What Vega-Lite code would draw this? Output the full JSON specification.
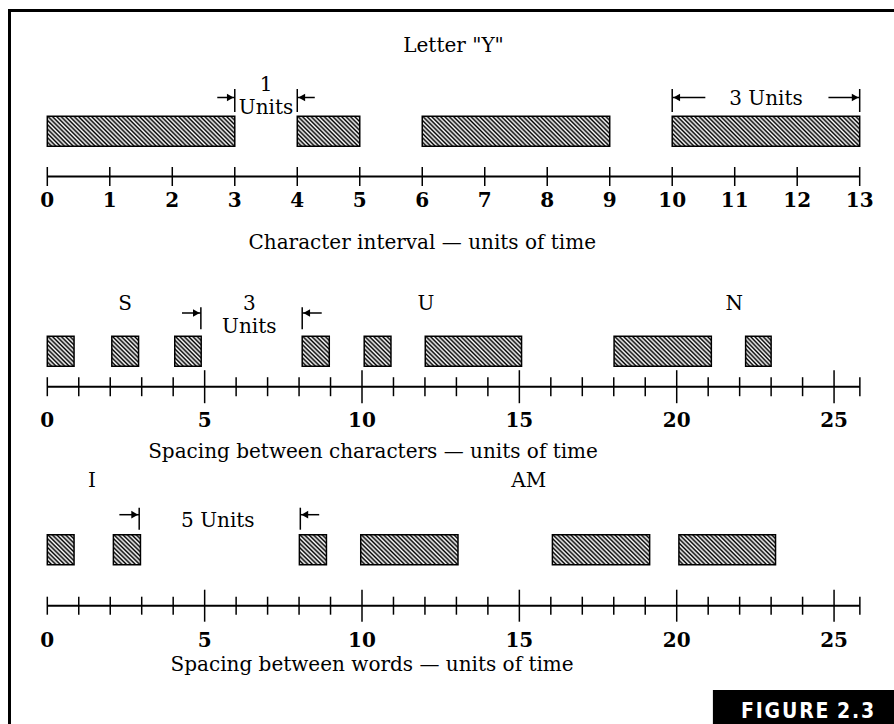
{
"$schema":"https://vega.github.io/schema/vega-lite/v6.json",
"width":887.5,"height":716.5,
"autosize":{"type":"none"},
"padding":{"left":9.5,"top":10.5,"right":-3,"bottom":-3},
"background":"#ffffff",
"config":{"view":{"stroke":"#000","strokeWidth":3},"mark":{"color":"#000"},"text":{"font":"DejaVu Serif","fontSize":20,"baseline":"alphabetic","align":"center","color":"#000"}},
"datasets":{
"bars":[
{"panel":"Y","t":0,"t2":3,"kind":"long"},
{"panel":"Y","t":4,"t2":5,"kind":"short"},
{"panel":"Y","t":6,"t2":9,"kind":"long"},
{"panel":"Y","t":10,"t2":13,"kind":"long"},
{"panel":"S","t":0,"t2":0.85,"kind":"dot"},
{"panel":"S","t":2.05,"t2":2.9,"kind":"dot"},
{"panel":"S","t":4.05,"t2":4.89,"kind":"dot"},
{"panel":"S","t":8.1,"t2":8.96,"kind":"dot"},
{"panel":"S","t":10.07,"t2":10.92,"kind":"dot"},
{"panel":"S","t":12.01,"t2":15.07,"kind":"dash"},
{"panel":"S","t":18.01,"t2":21.1,"kind":"dash"},
{"panel":"S","t":22.19,"t2":23.0,"kind":"dot"},
{"panel":"I","t":0,"t2":0.85,"kind":"dot"},
{"panel":"I","t":2.1,"t2":2.96,"kind":"dot"},
{"panel":"I","t":8.01,"t2":8.87,"kind":"dot"},
{"panel":"I","t":9.96,"t2":13.05,"kind":"dash"},
{"panel":"I","t":16.05,"t2":19.14,"kind":"dash"},
{"panel":"I","t":20.07,"t2":23.14,"kind":"dash"}
],
"axes":[{"panel":"Y","t":0,"t2":13},{"panel":"S","t":0,"t2":25.82},{"panel":"I","t":0,"t2":25.82}],
"ticks":[
{"panel":"Y","t":0,"kind":"unit"},{"panel":"Y","t":1,"kind":"unit"},{"panel":"Y","t":2,"kind":"unit"},{"panel":"Y","t":3,"kind":"unit"},{"panel":"Y","t":4,"kind":"unit"},{"panel":"Y","t":5,"kind":"unit"},{"panel":"Y","t":6,"kind":"unit"},{"panel":"Y","t":7,"kind":"unit"},{"panel":"Y","t":8,"kind":"unit"},{"panel":"Y","t":9,"kind":"unit"},{"panel":"Y","t":10,"kind":"unit"},{"panel":"Y","t":11,"kind":"unit"},{"panel":"Y","t":12,"kind":"unit"},{"panel":"Y","t":13,"kind":"unit"},
{"panel":"S","t":0,"kind":"unit"},{"panel":"S","t":1,"kind":"unit"},{"panel":"S","t":2,"kind":"unit"},{"panel":"S","t":3,"kind":"unit"},{"panel":"S","t":4,"kind":"unit"},{"panel":"S","t":5,"kind":"five"},{"panel":"S","t":6,"kind":"unit"},{"panel":"S","t":7,"kind":"unit"},{"panel":"S","t":8,"kind":"unit"},{"panel":"S","t":9,"kind":"unit"},{"panel":"S","t":10,"kind":"five"},{"panel":"S","t":11,"kind":"unit"},{"panel":"S","t":12,"kind":"unit"},{"panel":"S","t":13,"kind":"unit"},{"panel":"S","t":14,"kind":"unit"},{"panel":"S","t":15,"kind":"five"},{"panel":"S","t":16,"kind":"unit"},{"panel":"S","t":17,"kind":"unit"},{"panel":"S","t":18,"kind":"unit"},{"panel":"S","t":19,"kind":"unit"},{"panel":"S","t":20,"kind":"five"},{"panel":"S","t":21,"kind":"unit"},{"panel":"S","t":22,"kind":"unit"},{"panel":"S","t":23,"kind":"unit"},{"panel":"S","t":24,"kind":"unit"},{"panel":"S","t":25,"kind":"five"},{"panel":"S","t":25.82,"kind":"unit"},
{"panel":"I","t":0,"kind":"unit"},{"panel":"I","t":1,"kind":"unit"},{"panel":"I","t":2,"kind":"unit"},{"panel":"I","t":3,"kind":"unit"},{"panel":"I","t":4,"kind":"unit"},{"panel":"I","t":5,"kind":"five"},{"panel":"I","t":6,"kind":"unit"},{"panel":"I","t":7,"kind":"unit"},{"panel":"I","t":8,"kind":"unit"},{"panel":"I","t":9,"kind":"unit"},{"panel":"I","t":10,"kind":"five"},{"panel":"I","t":11,"kind":"unit"},{"panel":"I","t":12,"kind":"unit"},{"panel":"I","t":13,"kind":"unit"},{"panel":"I","t":14,"kind":"unit"},{"panel":"I","t":15,"kind":"five"},{"panel":"I","t":16,"kind":"unit"},{"panel":"I","t":17,"kind":"unit"},{"panel":"I","t":18,"kind":"unit"},{"panel":"I","t":19,"kind":"unit"},{"panel":"I","t":20,"kind":"five"},{"panel":"I","t":21,"kind":"unit"},{"panel":"I","t":22,"kind":"unit"},{"panel":"I","t":23,"kind":"unit"},{"panel":"I","t":24,"kind":"unit"},{"panel":"I","t":25,"kind":"five"},{"panel":"I","t":25.82,"kind":"unit"}
],
"labels":[
{"panel":"Y","t":0},{"panel":"Y","t":1},{"panel":"Y","t":2},{"panel":"Y","t":3},{"panel":"Y","t":4},{"panel":"Y","t":5},{"panel":"Y","t":6},{"panel":"Y","t":7},{"panel":"Y","t":8},{"panel":"Y","t":9},{"panel":"Y","t":10},{"panel":"Y","t":11},{"panel":"Y","t":12},{"panel":"Y","t":13},
{"panel":"S","t":0},{"panel":"S","t":5},{"panel":"S","t":10},{"panel":"S","t":15},{"panel":"S","t":20},{"panel":"S","t":25},
{"panel":"I","t":0},{"panel":"I","t":5},{"panel":"I","t":10},{"panel":"I","t":15},{"panel":"I","t":20},{"panel":"I","t":25}
],
"texts":[
{"panel":"Y","t":6.5,"text":"Letter \"Y\"","role":"head"},
{"panel":"Y","t":3.5,"text":"1","role":"num"},
{"panel":"Y","t":3.5,"text":"Units","role":"unit"},
{"panel":"Y","t":11.5,"text":"3 Units","role":"span"},
{"panel":"Y","t":6.0,"text":"Character interval — units of time","role":"title"},
{"panel":"S","t":2.47,"text":"S","role":"char"},
{"panel":"S","t":6.42,"text":"3","role":"char"},
{"panel":"S","t":12.03,"text":"U","role":"char"},
{"panel":"S","t":21.83,"text":"N","role":"char"},
{"panel":"S","t":6.42,"text":"Units","role":"unit"},
{"panel":"S","t":10.35,"text":"Spacing between characters — units of time","role":"title"},
{"panel":"I","t":1.42,"text":"I","role":"char"},
{"panel":"I","t":15.3,"text":"AM","role":"char"},
{"panel":"I","t":5.42,"text":"5 Units","role":"span"},
{"panel":"I","t":10.32,"text":"Spacing between words — units of time","role":"title"}
],
"figure":[{"panel":"I","t":21.15,"t2":27.5,"text":"F\u200aI\u200aG\u200aU\u200aR\u200aE \u200a2\u200a.\u200a3"}],
"arrows":[
{"panel":"Y","t":3,"t2":2.72,"dir":"right"},
{"panel":"Y","t":4,"t2":4.28,"dir":"left"},
{"panel":"Y","t":10,"t2":10.53,"dir":"left"},
{"panel":"Y","t":13,"t2":12.5,"dir":"right"},
{"panel":"S","t":4.88,"t2":4.28,"dir":"right"},
{"panel":"S","t":8.1,"t2":8.72,"dir":"left"},
{"panel":"I","t":2.92,"t2":2.29,"dir":"right"},
{"panel":"I","t":8.04,"t2":8.64,"dir":"left"}
]
},
"encoding":{"y":{"field":"panel","type":"nominal","axis":null,"scale":{"type":"point","domain":["Y","S","I"],"range":[142.4,539.2],"padding":0}}},
"layer":[
{"encoding":{"x":{"field":"t","type":"quantitative","axis":null,"scale":{"domain":[-0.6049,13.597],"nice":false,"zero":false}}},
"layer":[
{"data":{"name":"bars"},"transform":[{"filter":"datum.kind==='long'"}],"mark":{"type":"bar","height":30,"yOffset":-21.6,"stroke":"#000","strokeWidth":1.5,"fill":{"gradient":"linear","x1":0,"y1":1,"x2":1.1327,"y2":0.8187,"stops":[{"offset":0,"color":"#000"},{"offset":0.01,"color":"#fff"},{"offset":0.02,"color":"#000"},{"offset":0.03,"color":"#fff"},{"offset":0.04,"color":"#000"},{"offset":0.05,"color":"#fff"},{"offset":0.06,"color":"#000"},{"offset":0.07,"color":"#fff"},{"offset":0.08,"color":"#000"},{"offset":0.09,"color":"#fff"},{"offset":0.1,"color":"#000"},{"offset":0.11,"color":"#fff"},{"offset":0.12,"color":"#000"},{"offset":0.13,"color":"#fff"},{"offset":0.14,"color":"#000"},{"offset":0.15,"color":"#fff"},{"offset":0.16,"color":"#000"},{"offset":0.17,"color":"#fff"},{"offset":0.18,"color":"#000"},{"offset":0.19,"color":"#fff"},{"offset":0.2,"color":"#000"},{"offset":0.21,"color":"#fff"},{"offset":0.22,"color":"#000"},{"offset":0.23,"color":"#fff"},{"offset":0.24,"color":"#000"},{"offset":0.25,"color":"#fff"},{"offset":0.26,"color":"#000"},{"offset":0.27,"color":"#fff"},{"offset":0.28,"color":"#000"},{"offset":0.29,"color":"#fff"},{"offset":0.3,"color":"#000"},{"offset":0.31,"color":"#fff"},{"offset":0.32,"color":"#000"},{"offset":0.33,"color":"#fff"},{"offset":0.34,"color":"#000"},{"offset":0.35,"color":"#fff"},{"offset":0.36,"color":"#000"},{"offset":0.37,"color":"#fff"},{"offset":0.38,"color":"#000"},{"offset":0.39,"color":"#fff"},{"offset":0.4,"color":"#000"},{"offset":0.41,"color":"#fff"},{"offset":0.42,"color":"#000"},{"offset":0.43,"color":"#fff"},{"offset":0.44,"color":"#000"},{"offset":0.45,"color":"#fff"},{"offset":0.46,"color":"#000"},{"offset":0.47,"color":"#fff"},{"offset":0.48,"color":"#000"},{"offset":0.49,"color":"#fff"},{"offset":0.5,"color":"#000"},{"offset":0.51,"color":"#fff"},{"offset":0.52,"color":"#000"},{"offset":0.53,"color":"#fff"},{"offset":0.54,"color":"#000"},{"offset":0.55,"color":"#fff"},{"offset":0.56,"color":"#000"},{"offset":0.57,"color":"#fff"},{"offset":0.58,"color":"#000"},{"offset":0.59,"color":"#fff"},{"offset":0.6,"color":"#000"},{"offset":0.61,"color":"#fff"},{"offset":0.62,"color":"#000"},{"offset":0.63,"color":"#fff"},{"offset":0.64,"color":"#000"},{"offset":0.65,"color":"#fff"},{"offset":0.66,"color":"#000"},{"offset":0.67,"color":"#fff"},{"offset":0.68,"color":"#000"},{"offset":0.69,"color":"#fff"},{"offset":0.7,"color":"#000"},{"offset":0.71,"color":"#fff"},{"offset":0.72,"color":"#000"},{"offset":0.73,"color":"#fff"},{"offset":0.74,"color":"#000"},{"offset":0.75,"color":"#fff"},{"offset":0.76,"color":"#000"},{"offset":0.77,"color":"#fff"},{"offset":0.78,"color":"#000"},{"offset":0.79,"color":"#fff"},{"offset":0.8,"color":"#000"},{"offset":0.81,"color":"#fff"},{"offset":0.82,"color":"#000"},{"offset":0.83,"color":"#fff"},{"offset":0.84,"color":"#000"},{"offset":0.85,"color":"#fff"},{"offset":0.86,"color":"#000"},{"offset":0.87,"color":"#fff"},{"offset":0.88,"color":"#000"},{"offset":0.89,"color":"#fff"},{"offset":0.9,"color":"#000"},{"offset":0.91,"color":"#fff"},{"offset":0.92,"color":"#000"},{"offset":0.93,"color":"#fff"},{"offset":0.94,"color":"#000"},{"offset":0.95,"color":"#fff"},{"offset":0.96,"color":"#000"},{"offset":0.97,"color":"#fff"},{"offset":0.98,"color":"#000"},{"offset":0.99,"color":"#fff"},{"offset":1,"color":"#000"}]}},"encoding":{"x2":{"field":"t2"}}},
{"data":{"name":"bars"},"transform":[{"filter":"datum.kind==='short'"}],"mark":{"type":"bar","height":30,"yOffset":-21.6,"stroke":"#000","strokeWidth":1.5,"fill":{"gradient":"linear","x1":0,"y1":1,"x2":1.4162,"y2":0.3201,"stops":[{"offset":0,"color":"#000"},{"offset":0.02,"color":"#fff"},{"offset":0.04,"color":"#000"},{"offset":0.06,"color":"#fff"},{"offset":0.08,"color":"#000"},{"offset":0.1,"color":"#fff"},{"offset":0.12,"color":"#000"},{"offset":0.14,"color":"#fff"},{"offset":0.16,"color":"#000"},{"offset":0.18,"color":"#fff"},{"offset":0.2,"color":"#000"},{"offset":0.22,"color":"#fff"},{"offset":0.24,"color":"#000"},{"offset":0.26,"color":"#fff"},{"offset":0.28,"color":"#000"},{"offset":0.3,"color":"#fff"},{"offset":0.32,"color":"#000"},{"offset":0.34,"color":"#fff"},{"offset":0.36,"color":"#000"},{"offset":0.38,"color":"#fff"},{"offset":0.4,"color":"#000"},{"offset":0.42,"color":"#fff"},{"offset":0.44,"color":"#000"},{"offset":0.46,"color":"#fff"},{"offset":0.48,"color":"#000"},{"offset":0.5,"color":"#fff"},{"offset":0.52,"color":"#000"},{"offset":0.54,"color":"#fff"},{"offset":0.56,"color":"#000"},{"offset":0.58,"color":"#fff"},{"offset":0.6,"color":"#000"},{"offset":0.62,"color":"#fff"},{"offset":0.64,"color":"#000"},{"offset":0.66,"color":"#fff"},{"offset":0.68,"color":"#000"},{"offset":0.7,"color":"#fff"},{"offset":0.72,"color":"#000"},{"offset":0.74,"color":"#fff"},{"offset":0.76,"color":"#000"},{"offset":0.78,"color":"#fff"},{"offset":0.8,"color":"#000"},{"offset":0.82,"color":"#fff"},{"offset":0.84,"color":"#000"},{"offset":0.86,"color":"#fff"},{"offset":0.88,"color":"#000"},{"offset":0.9,"color":"#fff"},{"offset":0.92,"color":"#000"},{"offset":0.94,"color":"#fff"},{"offset":0.96,"color":"#000"},{"offset":0.98,"color":"#fff"},{"offset":1,"color":"#000"}]}},"encoding":{"x2":{"field":"t2"}}},
{"data":{"name":"axes"},"transform":[{"filter":"datum.panel==='Y'"}],"mark":{"type":"rule","strokeWidth":2,"yOffset":23.6},"encoding":{"x2":{"field":"t2"}}},
{"data":{"name":"ticks"},"transform":[{"filter":"datum.panel==='Y'"}],"mark":{"type":"tick","size":19,"thickness":1.5,"opacity":1,"yOffset":23.6}},
{"data":{"name":"labels"},"transform":[{"filter":"datum.panel==='Y'"}],"mark":{"type":"text","fontWeight":"bold","yOffset":53.6},"encoding":{"text":{"field":"t","type":"quantitative","format":"d"}}},
{"data":{"name":"texts"},"transform":[{"filter":"datum.panel==='Y' && datum.role==='head'"}],"mark":{"type":"text","yOffset":-100.9},"encoding":{"text":{"field":"text"}}},
{"data":{"name":"texts"},"transform":[{"filter":"datum.panel==='Y' && datum.role==='num'"}],"mark":{"type":"text","yOffset":-62},"encoding":{"text":{"field":"text"}}},
{"data":{"name":"texts"},"transform":[{"filter":"datum.panel==='Y' && datum.role==='unit'"}],"mark":{"type":"text","yOffset":-39},"encoding":{"text":{"field":"text"}}},
{"data":{"name":"texts"},"transform":[{"filter":"datum.panel==='Y' && datum.role==='span'"}],"mark":{"type":"text","yOffset":-47.9},"encoding":{"text":{"field":"text"}}},
{"data":{"name":"texts"},"transform":[{"filter":"datum.panel==='Y' && datum.role==='title'"}],"mark":{"type":"text","yOffset":96.1},"encoding":{"text":{"field":"text"}}},
{"data":{"name":"arrows"},"transform":[{"filter":"datum.panel==='Y'"}],"mark":{"type":"rule","strokeWidth":1.5,"yOffset":-55.4},"encoding":{"x2":{"field":"t2"}}},
{"data":{"name":"arrows"},"transform":[{"filter":"datum.panel==='Y' && datum.dir==='right'"}],"mark":{"type":"point","shape":"triangle-right","filled":true,"size":60,"opacity":1,"xOffset":-4.5,"yOffset":-55.4}},
{"data":{"name":"arrows"},"transform":[{"filter":"datum.panel==='Y' && datum.dir==='left'"}],"mark":{"type":"point","shape":"triangle-left","filled":true,"size":60,"opacity":1,"xOffset":4.5,"yOffset":-55.4}},
{"data":{"name":"arrows"},"transform":[{"filter":"datum.panel==='Y'"}],"mark":{"type":"tick","size":23,"thickness":1.5,"opacity":1,"yOffset":-52.4}}
]},
{"encoding":{"x":{"field":"t","type":"quantitative","axis":null,"scale":{"domain":[-1.2011,27],"nice":false,"zero":false}}},
"layer":[
{"data":{"name":"bars"},"transform":[{"filter":"datum.kind==='dot'"}],"mark":{"type":"bar","height":30,"stroke":"#000","strokeWidth":1.5,"fill":{"gradient":"linear","x1":0,"y1":1,"x2":1.4408,"y2":-0.6311,"stops":[{"offset":0,"color":"#000"},{"offset":0.025,"color":"#fff"},{"offset":0.05,"color":"#000"},{"offset":0.075,"color":"#fff"},{"offset":0.1,"color":"#000"},{"offset":0.125,"color":"#fff"},{"offset":0.15,"color":"#000"},{"offset":0.175,"color":"#fff"},{"offset":0.2,"color":"#000"},{"offset":0.225,"color":"#fff"},{"offset":0.25,"color":"#000"},{"offset":0.275,"color":"#fff"},{"offset":0.3,"color":"#000"},{"offset":0.325,"color":"#fff"},{"offset":0.35,"color":"#000"},{"offset":0.375,"color":"#fff"},{"offset":0.4,"color":"#000"},{"offset":0.425,"color":"#fff"},{"offset":0.45,"color":"#000"},{"offset":0.475,"color":"#fff"},{"offset":0.5,"color":"#000"},{"offset":0.525,"color":"#fff"},{"offset":0.55,"color":"#000"},{"offset":0.575,"color":"#fff"},{"offset":0.6,"color":"#000"},{"offset":0.625,"color":"#fff"},{"offset":0.65,"color":"#000"},{"offset":0.675,"color":"#fff"},{"offset":0.7,"color":"#000"},{"offset":0.725,"color":"#fff"},{"offset":0.75,"color":"#000"},{"offset":0.775,"color":"#fff"},{"offset":0.8,"color":"#000"},{"offset":0.825,"color":"#fff"},{"offset":0.85,"color":"#000"},{"offset":0.875,"color":"#fff"},{"offset":0.9,"color":"#000"},{"offset":0.925,"color":"#fff"},{"offset":0.95,"color":"#000"},{"offset":0.975,"color":"#fff"},{"offset":1,"color":"#000"}]}},"encoding":{"x2":{"field":"t2"}}},
{"data":{"name":"bars"},"transform":[{"filter":"datum.kind==='dash'"}],"mark":{"type":"bar","height":30,"stroke":"#000","strokeWidth":1.5,"fill":{"gradient":"linear","x1":0,"y1":1,"x2":1.6534,"y2":0.4833,"stops":[{"offset":0,"color":"#000"},{"offset":0.0125,"color":"#fff"},{"offset":0.025,"color":"#000"},{"offset":0.0375,"color":"#fff"},{"offset":0.05,"color":"#000"},{"offset":0.0625,"color":"#fff"},{"offset":0.075,"color":"#000"},{"offset":0.0875,"color":"#fff"},{"offset":0.1,"color":"#000"},{"offset":0.1125,"color":"#fff"},{"offset":0.125,"color":"#000"},{"offset":0.1375,"color":"#fff"},{"offset":0.15,"color":"#000"},{"offset":0.1625,"color":"#fff"},{"offset":0.175,"color":"#000"},{"offset":0.1875,"color":"#fff"},{"offset":0.2,"color":"#000"},{"offset":0.2125,"color":"#fff"},{"offset":0.225,"color":"#000"},{"offset":0.2375,"color":"#fff"},{"offset":0.25,"color":"#000"},{"offset":0.2625,"color":"#fff"},{"offset":0.275,"color":"#000"},{"offset":0.2875,"color":"#fff"},{"offset":0.3,"color":"#000"},{"offset":0.3125,"color":"#fff"},{"offset":0.325,"color":"#000"},{"offset":0.3375,"color":"#fff"},{"offset":0.35,"color":"#000"},{"offset":0.3625,"color":"#fff"},{"offset":0.375,"color":"#000"},{"offset":0.3875,"color":"#fff"},{"offset":0.4,"color":"#000"},{"offset":0.4125,"color":"#fff"},{"offset":0.425,"color":"#000"},{"offset":0.4375,"color":"#fff"},{"offset":0.45,"color":"#000"},{"offset":0.4625,"color":"#fff"},{"offset":0.475,"color":"#000"},{"offset":0.4875,"color":"#fff"},{"offset":0.5,"color":"#000"},{"offset":0.5125,"color":"#fff"},{"offset":0.525,"color":"#000"},{"offset":0.5375,"color":"#fff"},{"offset":0.55,"color":"#000"},{"offset":0.5625,"color":"#fff"},{"offset":0.575,"color":"#000"},{"offset":0.5875,"color":"#fff"},{"offset":0.6,"color":"#000"},{"offset":0.6125,"color":"#fff"},{"offset":0.625,"color":"#000"},{"offset":0.6375,"color":"#fff"},{"offset":0.65,"color":"#000"},{"offset":0.6625,"color":"#fff"},{"offset":0.675,"color":"#000"},{"offset":0.6875,"color":"#fff"},{"offset":0.7,"color":"#000"},{"offset":0.7125,"color":"#fff"},{"offset":0.725,"color":"#000"},{"offset":0.7375,"color":"#fff"},{"offset":0.75,"color":"#000"},{"offset":0.7625,"color":"#fff"},{"offset":0.775,"color":"#000"},{"offset":0.7875,"color":"#fff"},{"offset":0.8,"color":"#000"},{"offset":0.8125,"color":"#fff"},{"offset":0.825,"color":"#000"},{"offset":0.8375,"color":"#fff"},{"offset":0.85,"color":"#000"},{"offset":0.8625,"color":"#fff"},{"offset":0.875,"color":"#000"},{"offset":0.8875,"color":"#fff"},{"offset":0.9,"color":"#000"},{"offset":0.9125,"color":"#fff"},{"offset":0.925,"color":"#000"},{"offset":0.9375,"color":"#fff"},{"offset":0.95,"color":"#000"},{"offset":0.9625,"color":"#fff"},{"offset":0.975,"color":"#000"},{"offset":0.9875,"color":"#fff"},{"offset":1,"color":"#000"}]}},"encoding":{"x2":{"field":"t2"}}},
{"data":{"name":"axes"},"transform":[{"filter":"datum.panel==='S'"}],"mark":{"type":"rule","strokeWidth":2,"yOffset":35.4},"encoding":{"x2":{"field":"t2"}}},
{"data":{"name":"ticks"},"transform":[{"filter":"datum.panel==='S' && datum.kind==='unit'"}],"mark":{"type":"tick","size":19,"thickness":1.5,"opacity":1,"yOffset":35.4}},
{"data":{"name":"ticks"},"transform":[{"filter":"datum.panel==='S' && datum.kind==='five'"}],"mark":{"type":"tick","size":33,"thickness":1.5,"opacity":1,"yOffset":35.4}},
{"data":{"name":"labels"},"transform":[{"filter":"datum.panel==='S'"}],"mark":{"type":"text","fontWeight":"bold","yOffset":75.4},"encoding":{"text":{"field":"t","type":"quantitative","format":"d"}}},
{"data":{"name":"texts"},"transform":[{"filter":"datum.panel==='S' && datum.role==='char'"}],"mark":{"type":"text","yOffset":-41},"encoding":{"text":{"field":"text"}}},
{"data":{"name":"texts"},"transform":[{"filter":"datum.panel==='S' && datum.role==='unit'"}],"mark":{"type":"text","yOffset":-18},"encoding":{"text":{"field":"text"}}},
{"data":{"name":"texts"},"transform":[{"filter":"datum.panel==='S' && datum.role==='title'"}],"mark":{"type":"text","yOffset":106.7},"encoding":{"text":{"field":"text"}}},
{"data":{"name":"arrows"},"transform":[{"filter":"datum.panel==='S'"}],"mark":{"type":"rule","strokeWidth":1.5,"yOffset":-38.3},"encoding":{"x2":{"field":"t2"}}},
{"data":{"name":"arrows"},"transform":[{"filter":"datum.panel==='S' && datum.dir==='right'"}],"mark":{"type":"point","shape":"triangle-right","filled":true,"size":60,"opacity":1,"xOffset":-4.5,"yOffset":-38.3}},
{"data":{"name":"arrows"},"transform":[{"filter":"datum.panel==='S' && datum.dir==='left'"}],"mark":{"type":"point","shape":"triangle-left","filled":true,"size":60,"opacity":1,"xOffset":4.5,"yOffset":-38.3}},
{"data":{"name":"arrows"},"transform":[{"filter":"datum.panel==='S'"}],"mark":{"type":"tick","size":22,"thickness":1.5,"opacity":1,"yOffset":-33}},
{"data":{"name":"axes"},"transform":[{"filter":"datum.panel==='I'"}],"mark":{"type":"rule","strokeWidth":2,"yOffset":56},"encoding":{"x2":{"field":"t2"}}},
{"data":{"name":"ticks"},"transform":[{"filter":"datum.panel==='I' && datum.kind==='unit'"}],"mark":{"type":"tick","size":18,"thickness":1.5,"opacity":1,"yOffset":56}},
{"data":{"name":"ticks"},"transform":[{"filter":"datum.panel==='I' && datum.kind==='five'"}],"mark":{"type":"tick","size":32,"thickness":1.5,"opacity":1,"yOffset":56}},
{"data":{"name":"labels"},"transform":[{"filter":"datum.panel==='I'"}],"mark":{"type":"text","fontWeight":"bold","yOffset":97},"encoding":{"text":{"field":"t","type":"quantitative","format":"d"}}},
{"data":{"name":"texts"},"transform":[{"filter":"datum.panel==='I' && datum.role==='char'"}],"mark":{"type":"text","yOffset":-63},"encoding":{"text":{"field":"text"}}},
{"data":{"name":"texts"},"transform":[{"filter":"datum.panel==='I' && datum.role==='span'"}],"mark":{"type":"text","yOffset":-22.4},"encoding":{"text":{"field":"text"}}},
{"data":{"name":"texts"},"transform":[{"filter":"datum.panel==='I' && datum.role==='title'"}],"mark":{"type":"text","yOffset":120.9},"encoding":{"text":{"field":"text"}}},
{"data":{"name":"arrows"},"transform":[{"filter":"datum.panel==='I'"}],"mark":{"type":"rule","strokeWidth":1.5,"yOffset":-35},"encoding":{"x2":{"field":"t2"}}},
{"data":{"name":"arrows"},"transform":[{"filter":"datum.panel==='I' && datum.dir==='right'"}],"mark":{"type":"point","shape":"triangle-right","filled":true,"size":60,"opacity":1,"xOffset":-4.5,"yOffset":-35}},
{"data":{"name":"arrows"},"transform":[{"filter":"datum.panel==='I' && datum.dir==='left'"}],"mark":{"type":"point","shape":"triangle-left","filled":true,"size":60,"opacity":1,"xOffset":4.5,"yOffset":-35}},
{"data":{"name":"arrows"},"transform":[{"filter":"datum.panel==='I'"}],"mark":{"type":"tick","size":22,"thickness":1.5,"opacity":1,"yOffset":-31}},
{"data":{"name":"figure"},"mark":{"type":"bar","height":40,"yOffset":160.3,"fill":"#000","stroke":null},"encoding":{"x2":{"field":"t2"}}},
{"data":{"name":"figure"},"mark":{"type":"text","align":"left","xOffset":28,"yOffset":168.6,"font":"DejaVu Sans Condensed, DejaVu Sans, sans-serif","fontWeight":"bold","fontSize":21,"color":"#fff"},"encoding":{"text":{"field":"text"}}}
]}
],
"resolve":{"scale":{"x":"independent"}}
}
